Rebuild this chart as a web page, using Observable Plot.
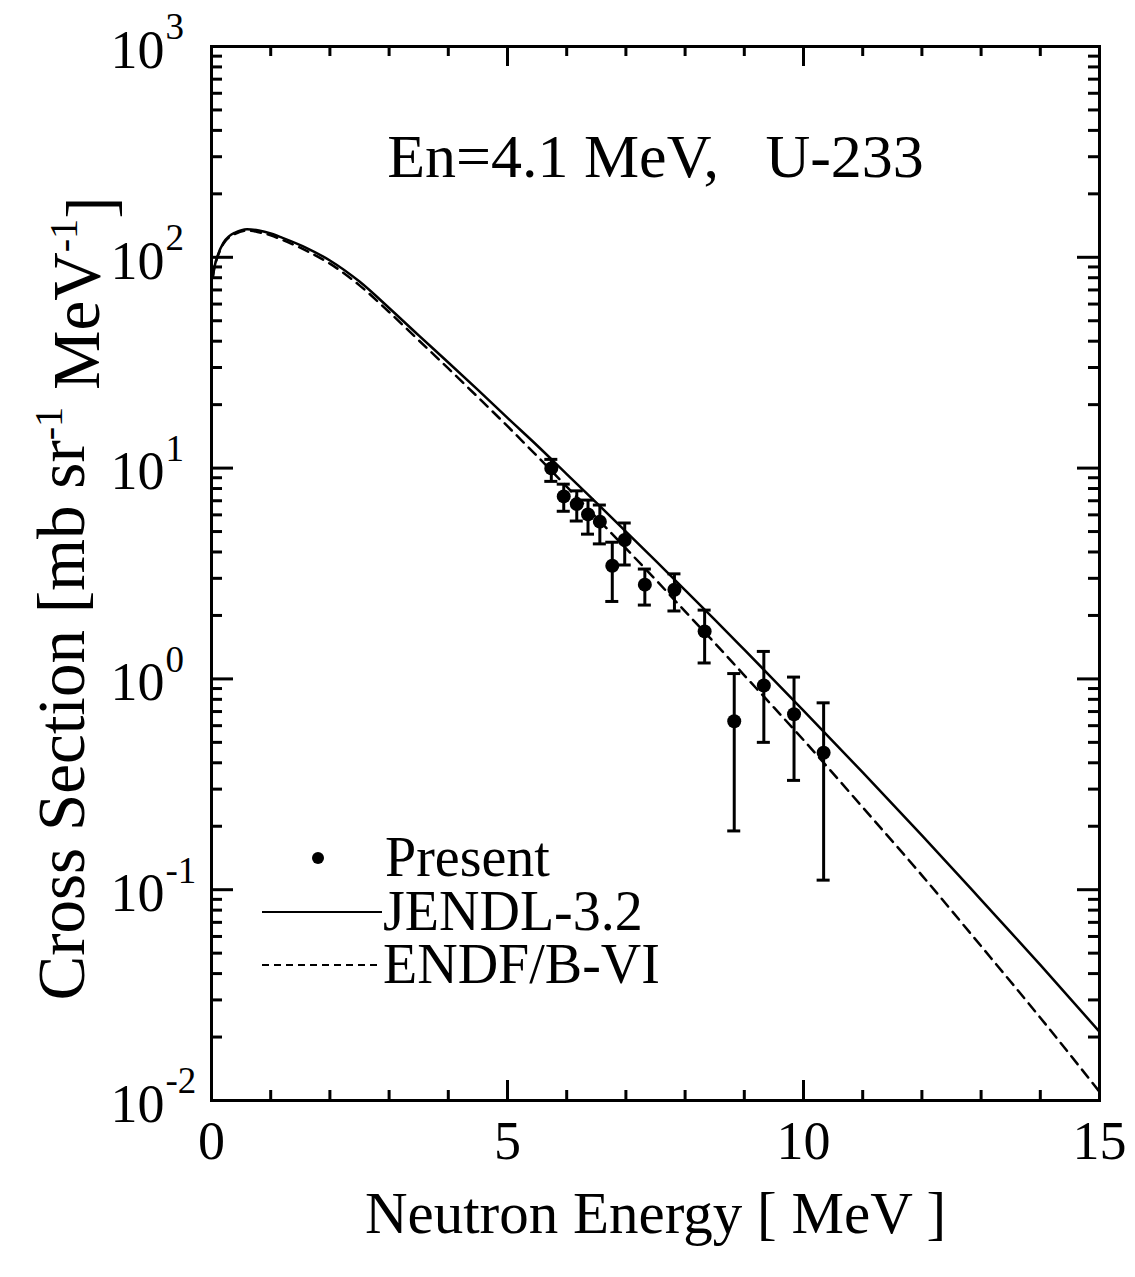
<!DOCTYPE html>
<html><head><meta charset="utf-8">
<script src="https://cdn.jsdelivr.net/npm/d3@7"></script>
<script src="https://cdn.jsdelivr.net/npm/@observablehq/plot@0.6"></script>
<style>
body{margin:0;background:#fff}
svg text{white-space:pre}
</style>
</head><body><div id="chart"></div>
<script>
// Calculated curves (neutron energy in MeV, cross section in mb/sr/MeV)
const curveE = [0.02,0.05,0.1,0.2,0.3,0.4,0.6,0.8,1.0,1.2,1.6,2.0,2.5,3.0,3.5,4.0,4.5,5.0,5.5,6.0,6.5,7.0,7.5,8.0,8.5,9.0,9.5,10.0,11.0,12.0,13.0,14.0,15.0];
const jendl  = [80,90,101,117,126,131,136,134,129.7,123.6,110.9,96.6,76.7,57.5,42.6,31.7,23.5,17.3,12.8,9.37,6.86,5.00,3.64,2.64,1.91,1.375,0.988,0.708,0.360,0.181,0.0895,0.0440,0.0212];
const endf   = [80,90,100,115.9,124.6,129.2,134,131.5,127.1,120.8,107.6,93.3,73.6,55.0,40.4,29.7,21.7,15.8,11.4,8.17,5.83,4.16,2.96,2.09,1.48,1.04,0.732,0.513,0.246,0.117,0.0540,0.0247,0.0110];

// Present measurement
const presentE  = [5.74,5.95,6.17,6.36,6.56,6.77,6.98,7.32,7.82,8.33,8.83,9.33,9.84,10.34];
const presentY  = [9.97,7.34,6.75,6.03,5.57,3.44,4.56,2.80,2.65,1.68,0.63,0.93,0.68,0.446];
const presentHi = [11.0,8.39,7.80,7.05,6.68,4.45,5.49,3.32,3.15,2.12,1.06,1.35,1.02,0.77];
const presentLo = [8.65,6.24,5.61,4.86,4.37,2.33,3.47,2.24,2.10,1.19,0.19,0.50,0.33,0.111];

// Axis ticks
const xMajor = [0,5,10,15];
const xMinor = [1,2,3,4,6,7,8,9,11,12,13,14];
const yMajor = [0.01,0.1,1,10,100,1000];
const yExp   = ["-2","-1","0","1","2","3"];
const yMinorMantissa = [2,3,4,5,6,7,8,9];
const yDecades = [0.01,0.1,1,10,100];
const yMinor = yDecades.flatMap(d => yMinorMantissa.map(m => m*d));

const titleText = "En=4.1 MeV,   U-233";
const xLabel = "Neutron Energy [ MeV ]";
const yLabelParts = ["Cross Section [mb sr", "-1", " MeV", "-1", "]"];
const legendLabels = ["Present", "JENDL-3.2", "ENDF/B-VI"];

const W = 1135, H = 1277, mL = 211, mR = 36, mT = 46, mB = 177;
const fW = W - mL - mR, fH = H - mT - mB;

const jData = curveE.map((E,i) => ({E, v: jendl[i]}));
const eData = curveE.map((E,i) => ({E, v: endf[i]}));
const pData = presentE.map((E,i) => ({E, v: presentY[i], hi: presentHi[i], lo: presentLo[i]}));
const yLab = yMajor.map((v,i) => ({v, e: yExp[i]}));

const font = "Liberation Serif, Times New Roman, serif";

const chart = Plot.plot({
  width: W, height: H,
  marginLeft: mL, marginRight: mR, marginTop: mT, marginBottom: mB,
  style: {fontFamily: font, background: "#fff", color: "#000"},
  x: {domain: [0,15], axis: null},
  y: {type: "log", domain: [0.01, 1000], axis: null},
  marks: [
    // ticks (inward) on all four sides
    Plot.tickX(xMajor, {x: d => d, insetTop: fH - 20, strokeWidth: 3}),
    Plot.tickX(xMinor, {x: d => d, insetTop: fH - 10, strokeWidth: 3}),
    Plot.tickX(xMajor, {x: d => d, insetBottom: fH - 20, strokeWidth: 3}),
    Plot.tickX(xMinor, {x: d => d, insetBottom: fH - 10, strokeWidth: 3}),
    Plot.tickY(yMajor, {y: d => d, insetRight: fW - 22, strokeWidth: 3}),
    Plot.tickY(yMinor, {y: d => d, insetRight: fW - 11, strokeWidth: 3}),
    Plot.tickY(yMajor, {y: d => d, insetLeft: fW - 22, strokeWidth: 3}),
    Plot.tickY(yMinor, {y: d => d, insetLeft: fW - 11, strokeWidth: 3}),
    Plot.frame({strokeWidth: 3}),
    // tick labels
    Plot.text(xMajor, {x: d => d, text: d => String(d), frameAnchor: "bottom", lineAnchor: "middle", dy: 41, fontSize: 54}),
    Plot.text(yLab, {y: "v", text: () => "10", frameAnchor: "left", lineAnchor: "middle", dx: -47, dy: 4, textAnchor: "end", fontSize: 54}),
    Plot.text(yLab, {y: "v", text: "e", frameAnchor: "left", lineAnchor: "middle", dx: -46, dy: -19, textAnchor: "start", fontSize: 37}),
    // axis labels & title
    Plot.text([xLabel], {text: d => d, frameAnchor: "bottom", lineAnchor: "middle", dy: 114, fontSize: 59}),
    Plot.text([yLabelParts.join("")], {text: d => d, frameAnchor: "left", lineAnchor: "middle", textAnchor: "middle", dx: -149, dy: 25, rotate: -90, fontSize: 67}),
    Plot.text([titleText], {text: d => d, frameAnchor: "top", lineAnchor: "middle", dy: 111, fontSize: 62}),
    // curves
    Plot.line(jData, {x: "E", y: "v", stroke: "#000", strokeWidth: 2.5, curve: "monotone-x"}),
    Plot.line(eData, {x: "E", y: "v", stroke: "#000", strokeWidth: 2.5, strokeDasharray: "10,7", curve: "monotone-x"}),
    // error bars
    Plot.ruleX(pData, {x: "E", y1: "lo", y2: "hi", strokeWidth: 3}),
    Plot.ruleY(pData, {y: "hi", x1: d => d.E - 0.11, x2: d => d.E + 0.11, strokeWidth: 3}),
    Plot.ruleY(pData, {y: "lo", x1: d => d.E - 0.11, x2: d => d.E + 0.11, strokeWidth: 3}),
    Plot.dot(pData, {x: "E", y: "v", r: 7, fill: "#000"})
  ]
});
document.getElementById("chart").append(chart);

// y-axis label with superscripts
const svg = d3.select(chart);
const yl = svg.selectAll("text").filter(function() { return this.textContent === yLabelParts.join(""); });
yl.text(null);
yl.append("tspan").text(yLabelParts[0]);
yl.append("tspan").attr("font-size", "0.6em").attr("dy", "-0.55em").text(yLabelParts[1]);
yl.append("tspan").attr("dy", "0.55em").text(yLabelParts[2]);
yl.append("tspan").attr("font-size", "0.6em").attr("dy", "-0.55em").text(yLabelParts[3]);
yl.append("tspan").attr("dy", "0.55em").text(yLabelParts[4]);

// legend
const lg = svg.append("g").attr("font-family", font).attr("font-size", 56).attr("text-anchor", "start");
lg.append("circle").attr("cx", 318).attr("cy", 858).attr("r", 6);
lg.append("text").attr("x", 385).attr("y", 858).attr("dy", "0.32em").text(legendLabels[0]);
lg.append("line").attr("x1", 262).attr("x2", 382).attr("y1", 912).attr("y2", 912).attr("stroke", "#000").attr("stroke-width", 2);
lg.append("text").attr("x", 383).attr("y", 912).attr("dy", "0.32em").text(legendLabels[1]);
lg.append("line").attr("x1", 262).attr("x2", 382).attr("y1", 965).attr("y2", 965).attr("stroke", "#000").attr("stroke-width", 2).attr("stroke-dasharray", "7,5");
lg.append("text").attr("x", 383).attr("y", 965).attr("dy", "0.32em").text(legendLabels[2]);
</script>
</body></html>
